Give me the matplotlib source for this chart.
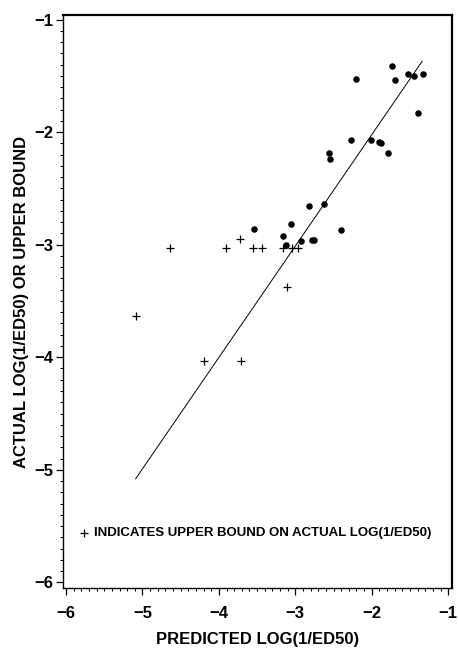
"""Actual vs predicted log(1/ED50), with upper-bound observations shown as '+'."""
import matplotlib
matplotlib.use('Agg')
import matplotlib.pyplot as plt
from matplotlib.ticker import MultipleLocator

# Observed (actual) values: predicted, actual
actual_pred = [-1.74, -2.21, -1.70, -1.52, -1.45, -1.33, -1.40, -2.27, -2.01,
               -1.91, -1.88, -1.79, -2.56, -2.54, -2.82, -2.63, -3.06, -3.54,
               -2.40, -3.16, -3.12, -2.93, -2.78, -2.75]
actual_obs = [-1.41, -1.53, -1.54, -1.48, -1.50, -1.48, -1.83, -2.07, -2.07,
              -2.09, -2.10, -2.19, -2.19, -2.24, -2.66, -2.64, -2.82, -2.86,
              -2.87, -2.92, -3.00, -2.97, -2.96, -2.96]

# Upper bounds on actual value: predicted, bound
bound_pred = [-3.72, -4.64, -3.91, -3.56, -3.43, -3.16, -3.04, -2.97, -3.11,
              -5.08, -4.19, -3.71]
bound_obs = [-2.95, -3.03, -3.03, -3.03, -3.03, -3.03, -3.03, -3.03, -3.38,
             -3.63, -4.03, -4.03]

# Fitted line end points
fit_x = [-5.09, -1.34]
fit_y = [-5.08, -1.37]

plt.rcParams['font.family'] = ['Liberation Sans', 'DejaVu Sans']
plt.rcParams['font.weight'] = 'bold'

fig = plt.figure(figsize=(4.58, 6.55), dpi=100)
ax = fig.add_axes([0.1376, 0.1023, 0.8493, 0.8748])

ax.plot(fit_x, fit_y, color='black', lw=0.7)
ax.scatter(actual_pred, actual_obs, s=22, color='black', marker='o', linewidths=0)
ax.scatter(bound_pred, bound_obs, s=40, color='black', marker='+', linewidths=0.9)

ax.set_xlim(-6.04, -0.95)
ax.set_ylim(-6.05, -0.96)
ax.xaxis.set_major_locator(MultipleLocator(1))
ax.yaxis.set_major_locator(MultipleLocator(1))
ax.xaxis.set_minor_locator(MultipleLocator(0.1))
ax.yaxis.set_minor_locator(MultipleLocator(0.1))
ax.xaxis.set_major_formatter(plt.FuncFormatter(lambda v, p: f'\u2212{abs(int(round(v)))}'))
ax.yaxis.set_major_formatter(plt.FuncFormatter(lambda v, p: f'\u2212{abs(int(round(v)))}'))
ax.tick_params(which='major', direction='out', length=5, width=0.9, labelsize=12)
ax.tick_params(which='minor', direction='out', length=2.5, width=0.7)
ax.tick_params(axis='x', pad=8)
ax.tick_params(axis='y', pad=2)

for side in ('top', 'right'):
    ax.spines[side].set_linewidth(1.6)
for side in ('left', 'bottom'):
    ax.spines[side].set_linewidth(1.0)

ax.set_xlabel('PREDICTED LOG(1/ED50)', fontsize=12, fontweight='bold', labelpad=8)
ax.set_ylabel('ACTUAL LOG(1/ED50) OR UPPER BOUND', fontsize=12, fontweight='bold', labelpad=4)

ax.scatter([-5.77], [-5.56], s=40, color='black', marker='+', linewidths=0.9)
ax.text(-5.63, -5.56, 'INDICATES UPPER BOUND ON ACTUAL LOG(1/ED50)',
        fontsize=9.5, fontweight='bold', va='center', ha='left')

fig.savefig('out.png', dpi=100)
